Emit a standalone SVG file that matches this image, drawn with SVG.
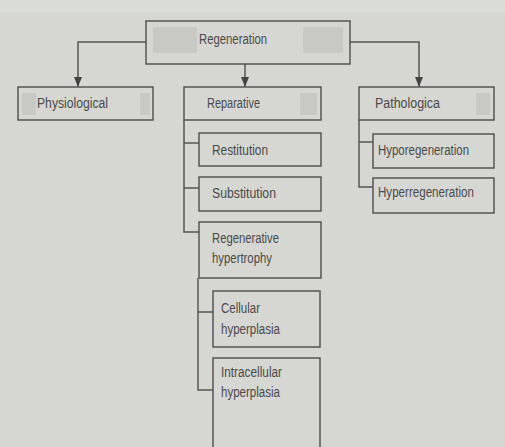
<svg xmlns="http://www.w3.org/2000/svg" width="505" height="447" viewBox="0 0 505 447">
<defs>
<marker id="arr" viewBox="0 0 10 8" refX="10" refY="4" markerWidth="10" markerHeight="8" markerUnits="userSpaceOnUse" orient="auto">
<path d="M0,0 L10,4 L0,8 Z" fill="#444"/>
</marker>
<style>
.box{fill:none;stroke:#555;stroke-width:1.5}
.patch{fill:#c8c9c5}
.t{font-family:"Liberation Sans",Arial,sans-serif;font-size:14px;fill:#4a4a4a}
.ln{fill:none;stroke:#555;stroke-width:1.5}
</style>
</defs>
<rect x="0" y="0" width="505" height="447" fill="#d6d7d2"/>
<rect x="0" y="0" width="505" height="12" fill="#dadcd8"/>

<g id="connectors">
<path class="ln" d="M146,42 H78 V87" marker-end="url(#arr)"/>
<path class="ln" d="M245,64 V87" marker-end="url(#arr)"/>
<path class="ln" d="M350,42 H419 V87" marker-end="url(#arr)"/>
<path class="ln" d="M184,120 V232 H199 M184,143 H199 M184,188 H199"/>
<path class="ln" d="M198,278 V390 H213 M198,312 H213"/>
<path class="ln" d="M359,120 V187 H373 M359,142 H373"/>
</g>

<g id="regeneration">
<rect class="patch" x="153" y="27" width="44" height="26"/>
<rect class="patch" x="303" y="27" width="40" height="26"/>
<rect class="box" x="146" y="21" width="204" height="43"/>
<text class="t" x="199" y="44" textLength="68" lengthAdjust="spacingAndGlyphs">Regeneration</text>
</g>

<g id="physiological">
<rect class="patch" x="22" y="93" width="14" height="22"/>
<rect class="patch" x="140" y="93" width="10" height="22"/>
<rect class="box" x="18" y="87" width="135" height="33"/>
<text class="t" x="37" y="108" textLength="71" lengthAdjust="spacingAndGlyphs">Physiological</text>
</g>

<g id="reparative">
<rect class="patch" x="300" y="93" width="17" height="22"/>
<rect class="box" x="184" y="87" width="137" height="33"/>
<text class="t" x="207" y="108" textLength="53" lengthAdjust="spacingAndGlyphs">Reparative</text>
</g>

<g id="pathological">
<rect class="patch" x="476" y="93" width="14" height="22"/>
<rect class="box" x="359" y="87" width="135" height="33"/>
<text class="t" x="375" y="108" textLength="65" lengthAdjust="spacingAndGlyphs">Pathologica</text>
</g>

<g id="restitution">
<rect class="box" x="199" y="133" width="122" height="33"/>
<text class="t" x="212" y="155" textLength="56" lengthAdjust="spacingAndGlyphs">Restitution</text>
</g>

<g id="substitution">
<rect class="box" x="199" y="177" width="122" height="34"/>
<text class="t" x="212" y="198" textLength="64" lengthAdjust="spacingAndGlyphs">Substitution</text>
</g>

<g id="regenerative-hypertrophy">
<rect class="box" x="199" y="222" width="122" height="56"/>
<text class="t" x="212" y="243" textLength="67" lengthAdjust="spacingAndGlyphs">Regenerative</text>
<text class="t" x="212" y="263" textLength="60" lengthAdjust="spacingAndGlyphs">hypertrophy</text>
</g>

<g id="cellular-hyperplasia">
<rect class="box" x="213" y="291" width="107" height="56"/>
<text class="t" x="221" y="313" textLength="39" lengthAdjust="spacingAndGlyphs">Cellular</text>
<text class="t" x="221" y="334" textLength="59" lengthAdjust="spacingAndGlyphs">hyperplasia</text>
</g>

<g id="intracellular-hyperplasia">
<path class="box" d="M213,450 V358 H320 V450"/>
<text class="t" x="221" y="377" textLength="61" lengthAdjust="spacingAndGlyphs">Intracellular</text>
<text class="t" x="221" y="397" textLength="59" lengthAdjust="spacingAndGlyphs">hyperplasia</text>
</g>

<g id="hyporegeneration">
<rect class="box" x="373" y="134" width="121" height="34"/>
<text class="t" x="378" y="155" textLength="91" lengthAdjust="spacingAndGlyphs">Hyporegeneration</text>
</g>

<g id="hyperregeneration">
<rect class="box" x="373" y="178" width="121" height="35"/>
<text class="t" x="378" y="197" textLength="96" lengthAdjust="spacingAndGlyphs">Hyperregeneration</text>
</g>
</svg>
